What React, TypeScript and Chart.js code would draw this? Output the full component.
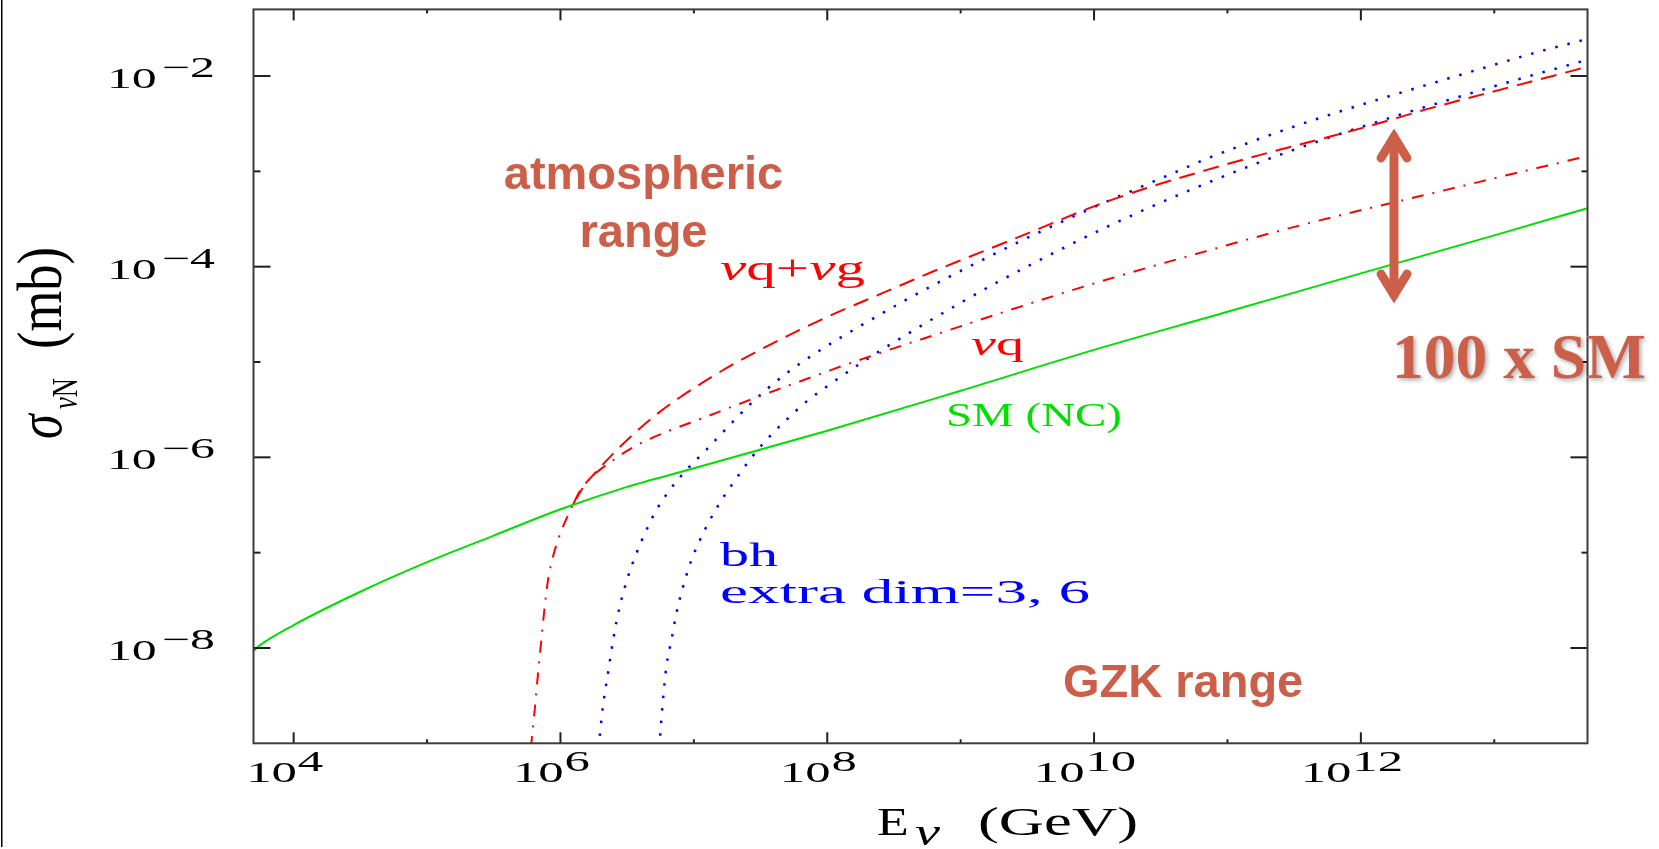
import { useEffect, useRef } from "react";
import { Chart, registerables } from "chart.js";

Chart.register(...registerables);

// Neutrino–nucleon cross sections: energy in GeV, sigma in mb.

// Standard Model, neutral current
const smEnergy = [5e3, 5.6e3, 1e4, 3.16e4, 1e5, 3.16e5, 1e6, 3.16e6, 1e7, 1e8, 1e9, 1e10, 1e11, 1e12, 1e13, 5e13];
const smSigma = [9.3e-9, 1.07e-8, 1.74e-8, 3.89e-8, 7.94e-8, 1.51e-7, 2.85e-7, 4.9e-7, 7.67e-7, 1.9e-6, 5.0e-6, 1.34e-5, 3.36e-5, 8.5e-5, 2.13e-4, 4.1e-4];

// νq + νg (dashed)
const quarkGluonEnergy = [
  6.0e5, 6.41e5, 6.79e5, 7.19e5, 7.62e5, 8.07e5, 8.79e5, 9.59e5, 1.045e6, 1.14e6, 1.24e6,
  1.39e6, 1.86e6, 2.62e6, 3.93e6, 5.55e6, 7.83e6, 1.39e7, 2.2e7, 3.49e7, 6.21e7,
  1.1e8, 1.96e8, 3.49e8, 6.21e8, 1.1e9, 1.96e9, 3.92e9, 9.84e9, 2.45e10, 6.92e10,
  1.74e11, 4.68e11, 1.23e12, 3.09e12, 8.32e12, 3.89e13, 5e13,
];
const quarkGluonSigma = [
  8.9e-10, 2.24e-9, 5.42e-9, 1.21e-8, 2.72e-8, 5.16e-8, 9.08e-8, 1.36e-7, 1.87e-7, 2.48e-7, 3.16e-7,
  4.37e-7, 7.08e-7, 1.18e-6, 2.01e-6, 3.0e-6, 4.24e-6, 7.1e-6, 1.03e-5, 1.45e-5, 2.17e-5,
  3.16e-5, 4.47e-5, 6.31e-5, 8.91e-5, 1.23e-4, 1.7e-4, 2.52e-4, 4.26e-4, 6.64e-4, 1.03e-3,
  1.48e-3, 2.13e-3, 3.06e-3, 4.47e-3, 6.46e-3, 1.14e-2, 1.25e-2,
];

// νq only (dash-dot)
const quarkEnergy = [
  6.0e5, 6.41e5, 6.79e5, 7.19e5, 7.62e5, 8.07e5, 8.79e5, 9.59e5, 1.045e6, 1.14e6, 1.24e6,
  1.56e6, 2.48e6, 3.93e6, 6.6e6, 1.15e7, 1.96e7, 3.49e7, 6.21e7, 1.1e8, 3.49e8, 6.58e8,
  1.96e9, 6.21e9, 1.95e10, 6.61e10, 2.19e11, 6.92e11, 2.34e12, 7.76e12, 1.38e13, 4.57e13, 5e13,
];
const quarkSigma = [
  8.9e-10, 2.24e-9, 5.42e-9, 1.21e-8, 2.72e-8, 5.16e-8, 9.08e-8, 1.36e-7, 1.87e-7, 2.48e-7, 3.16e-7,
  5.37e-7, 9.33e-7, 1.39e-6, 1.91e-6, 2.56e-6, 3.42e-6, 4.65e-6, 6.25e-6, 8.38e-6, 1.46e-5, 1.95e-5,
  3.24e-5, 5.43e-5, 8.81e-5, 1.43e-4, 2.28e-4, 3.45e-4, 5.19e-4, 7.76e-4, 9.44e-4, 1.41e-3, 1.46e-3,
];

// black hole production, 3 extra dimensions (dotted)
const bh3Energy = [
  1.93e6, 2.08e6, 2.28e6, 2.48e6, 2.78e6, 3.21e6, 3.71e6, 4.41e6, 5.24e6, 6.59e6, 8.79e6,
  1.24e7, 1.75e7, 2.75e7, 4.93e7, 8.77e7, 1.75e8, 3.49e8, 6.21e8, 1.1e9, 1.96e9, 3.98e9, 9.84e9,
  2.19e10, 3.89e10, 6.92e10, 1.38e11, 3.09e11, 7.41e11, 1.74e12, 4.17e12, 9.77e12, 1.95e13, 5e13,
];
const bh3Sigma = [
  8.9e-10, 2.42e-9, 5.6e-9, 1.21e-8, 2.72e-8, 5.6e-8, 9.84e-8, 1.73e-7, 2.8e-7, 4.54e-7, 7.36e-7,
  1.2e-6, 2.0e-6, 3.8e-6, 7.59e-6, 1.32e-5, 2.37e-5, 4.12e-5, 6.38e-5, 9.66e-5, 1.45e-4, 2.34e-4, 4.17e-4,
  6.76e-4, 9.55e-4, 1.35e-3, 1.95e-3, 2.92e-3, 4.37e-3, 6.31e-3, 9.12e-3, 1.3e-2, 1.73e-2, 2.45e-2,
];

// black hole production, 6 extra dimensions (dotted)
const bh6Energy = [
  5.5e6, 5.87e6, 6.22e6, 6.79e6, 7.4e6, 8.3e6, 9.59e6, 1.11e7, 1.32e7, 1.56e7, 1.96e7, 2.62e7,
  3.49e7, 4.93e7, 6.97e7, 9.29e7, 1.96e8, 4.66e8, 9.84e8, 1.96e9, 3.49e9, 6.21e9, 1.23e10, 2.19e10,
  4.17e10, 7.76e10, 1.55e11, 3.09e11, 6.17e11, 1.1e12, 1.95e12, 3.47e12, 7.76e12, 1.55e13, 2.45e13, 5e13,
];
const bh6Sigma = [
  8.9e-10, 2.84e-9, 6.37e-9, 1.21e-8, 2.31e-8, 4.4e-8, 8.38e-8, 1.36e-7, 2.2e-7, 3.3e-7, 5.33e-7, 9.38e-7,
  1.52e-6, 2.47e-6, 3.84e-6, 5.19e-6, 1.06e-5, 2.24e-5, 4.13e-5, 7.08e-5, 1.08e-4, 1.63e-4, 2.59e-4, 3.75e-4,
  5.56e-4, 7.98e-4, 1.17e-3, 1.67e-3, 2.33e-3, 3.04e-3, 3.92e-3, 5.01e-3, 7.03e-3, 9.33e-3, 1.12e-2, 1.48e-2,
];

// axis ticks, as powers of ten
const xMajorExponents = [4, 6, 8, 10, 12];
const xMinorExponents = [5, 7, 9, 11, 13];
const yMajorExponents = [-2, -4, -6, -8];
const yMinorExponents = [-3, -5, -7];

// the two red curves coincide below the point where they split
const sharedCount = quarkGluonEnergy.findIndex(
  (e, i) => e !== quarkEnergy[i] || quarkGluonSigma[i] !== quarkSigma[i]
);

const RED = "#ff0000";
const BLUE = "#0000ff";
const GREEN = "#00e000";
const ACCENT = "#cc5f4a";
const INK = "#1e1e1e";
const FRAME = "#3c3c3c";
const SERIF = '"Liberation Serif", "Times New Roman", serif';
const SANS = '"Liberation Sans", Arial, sans-serif';

type Run = { text: string; font: string; dy?: number; gap?: number };
type RunOpts = { align?: "left" | "right" | "center"; width?: number; sx?: number };

// Draws a row of text pieces, stretched horizontally by a fixed factor or to a width.
function drawRuns(ctx: CanvasRenderingContext2D, runs: Run[], x: number, y: number, opts: RunOpts) {
  const widths = runs.map((r) => {
    ctx.font = r.font;
    return ctx.measureText(r.text).width;
  });
  const natural = widths.reduce((s, w, i) => s + w + (runs[i].gap ?? 0), 0);
  const sx = opts.width ? opts.width / natural : opts.sx ?? 1;
  const total = natural * sx;
  const align = opts.align ?? "left";
  const start = align === "left" ? x : align === "right" ? x - total : x - total / 2;
  ctx.save();
  ctx.translate(start, y);
  ctx.scale(sx, 1);
  ctx.textAlign = "left";
  ctx.textBaseline = "alphabetic";
  let cx = 0;
  runs.forEach((r, i) => {
    cx += r.gap ?? 0;
    ctx.font = r.font;
    ctx.fillText(r.text, cx, r.dy ?? 0);
    cx += widths[i];
  });
  ctx.restore();
}

function segment(ctx: CanvasRenderingContext2D, x1: number, y1: number, x2: number, y2: number) {
  ctx.beginPath();
  ctx.moveTo(x1, y1);
  ctx.lineTo(x2, y2);
  ctx.stroke();
}

const framePlugin = {
  id: "frameAndLabels",
  afterDraw(chart: Chart) {
    const { ctx, chartArea: a } = chart;
    const xs = chart.scales.x;
    const ys = chart.scales.y;
    ctx.save();

    // page edge rule
    ctx.fillStyle = "#000";
    ctx.fillRect(1, 0, 1.5, 847);

    // tick marks on all four sides, pointing inward
    ctx.strokeStyle = INK;
    ctx.lineWidth = 2;
    xMajorExponents.forEach((e) => {
      const px = xs.getPixelForValue(10 ** e);
      segment(ctx, px, a.bottom, px, a.bottom - 11);
      segment(ctx, px, a.top, px, a.top + 11);
    });
    xMinorExponents.forEach((e) => {
      const px = xs.getPixelForValue(10 ** e);
      segment(ctx, px, a.bottom, px, a.bottom - 4);
      segment(ctx, px, a.top, px, a.top + 4);
    });
    yMajorExponents.forEach((e) => {
      const py = ys.getPixelForValue(10 ** e);
      segment(ctx, a.left, py, a.left + 17, py);
      segment(ctx, a.right, py, a.right - 17, py);
    });
    yMinorExponents.forEach((e) => {
      const py = ys.getPixelForValue(10 ** e);
      segment(ctx, a.left, py, a.left + 7, py);
      segment(ctx, a.right, py, a.right - 6, py);
    });

    ctx.strokeStyle = FRAME;
    ctx.lineWidth = 2;
    ctx.strokeRect(a.left, a.top, a.width, a.height);

    // tick labels
    ctx.fillStyle = "#000";
    const tickFont = `29px ${SERIF}`;
    yMajorExponents.forEach((e) => {
      const py = ys.getPixelForValue(10 ** e);
      drawRuns(
        ctx,
        [
          { text: "10", font: tickFont },
          { text: `\u2212${-e}`, font: tickFont, dy: -11, gap: 3 },
        ],
        215,
        py + 12,
        { align: "right", sx: 1.72 }
      );
    });
    xMajorExponents.forEach((e) => {
      const px = xs.getPixelForValue(10 ** e);
      drawRuns(
        ctx,
        [
          { text: "10", font: tickFont },
          { text: String(e), font: tickFont, dy: -11, gap: 0.5 },
        ],
        px - 9,
        782,
        { align: "center", sx: 1.75 }
      );
    });

    // axis titles
    drawRuns(ctx, [{ text: "E", font: `40px ${SERIF}` }], 877, 835, { sx: 1.3 });
    drawRuns(ctx, [{ text: "\u03bd", font: `italic 38px ${SERIF}` }], 915, 845, { width: 25 });
    drawRuns(ctx, [{ text: "(GeV)", font: `40px ${SERIF}` }], 978, 835, { width: 160 });

    ctx.save();
    ctx.translate(61, 439);
    ctx.rotate(-Math.PI / 2);
    ctx.scale(1, 1.25);
    drawRuns(ctx, [{ text: "\u03c3", font: `italic 50px ${SERIF}` }], 0, 0, { sx: 1 });
    drawRuns(
      ctx,
      [
        { text: "\u03bd", font: `italic 28px ${SERIF}` },
        { text: "N", font: `28px ${SERIF}` },
      ],
      30,
      12.4,
      { width: 31 }
    );
    drawRuns(ctx, [{ text: "(mb)", font: `50px ${SERIF}` }], 90, 0, { width: 102 });
    ctx.restore();

    // curve labels
    ctx.fillStyle = RED;
    drawRuns(
      ctx,
      [
        { text: "\u03bd", font: `italic 36px ${SERIF}` },
        { text: "q+", font: `36px ${SERIF}` },
        { text: "\u03bd", font: `italic 36px ${SERIF}` },
        { text: "g", font: `36px ${SERIF}` },
      ],
      720,
      280,
      { width: 145 }
    );
    drawRuns(
      ctx,
      [
        { text: "\u03bd", font: `italic 34px ${SERIF}` },
        { text: "q", font: `34px ${SERIF}` },
      ],
      971,
      355,
      { width: 53 }
    );
    ctx.fillStyle = GREEN;
    drawRuns(ctx, [{ text: "SM (NC)", font: `33px ${SERIF}` }], 946, 426, { width: 176 });
    ctx.fillStyle = BLUE;
    drawRuns(ctx, [{ text: "bh", font: `33px ${SERIF}` }], 720, 566, { width: 58 });
    drawRuns(ctx, [{ text: "extra dim=3, 6", font: `33px ${SERIF}` }], 720, 603, { width: 370 });

    // energy-range captions
    ctx.fillStyle = ACCENT;
    ctx.font = `bold 47px ${SANS}`;
    ctx.textBaseline = "alphabetic";
    ctx.textAlign = "center";
    ctx.fillText("atmospheric", 643.5, 189);
    ctx.fillText("range", 643.5, 247);
    ctx.textAlign = "left";
    ctx.fillText("GZK range", 1063, 697);

    // enhancement marker
    ctx.strokeStyle = ACCENT;
    ctx.lineWidth = 9;
    ctx.lineCap = "round";
    ctx.lineJoin = "miter";
    ctx.miterLimit = 10;
    ctx.beginPath();
    ctx.moveTo(1394, 137);
    ctx.lineTo(1394, 295);
    ctx.stroke();
    ctx.beginPath();
    ctx.moveTo(1381, 158);
    ctx.lineTo(1394, 137);
    ctx.lineTo(1407, 158);
    ctx.stroke();
    ctx.beginPath();
    ctx.moveTo(1381, 274);
    ctx.lineTo(1394, 295);
    ctx.lineTo(1407, 274);
    ctx.stroke();

    ctx.save();
    ctx.shadowColor = "rgba(0,0,0,0.35)";
    ctx.shadowBlur = 4;
    ctx.shadowOffsetX = 2;
    ctx.shadowOffsetY = 2;
    drawRuns(ctx, [{ text: "100 x SM", font: `bold 64px ${SERIF}` }], 1392, 378, { width: 254 });
    ctx.restore();

    ctx.restore();
  },
};

function points(energy: number[], sigma: number[]) {
  return energy.map((e, i) => ({ x: e, y: sigma[i] }));
}

export default function App() {
  const ref = useRef<HTMLCanvasElement>(null);

  useEffect(() => {
    if (!ref.current) return;
    const chart = new Chart(ref.current, {
      type: "line",
      data: {
        datasets: [
          {
            label: "SM (NC)",
            data: points(smEnergy, smSigma),
            borderColor: GREEN,
            borderWidth: 2,
          },
          {
            label: "\u03bdq",
            data: points(quarkEnergy, quarkSigma),
            borderColor: RED,
            borderWidth: 2,
            borderDash: [12, 9, 2, 9],
          },
          {
            label: "\u03bdq+\u03bdg",
            data: points(quarkGluonEnergy, quarkGluonSigma),
            borderColor: RED,
            borderWidth: 2,
            borderDash: [16, 9],
            // below the split the νq curve already traces the same path
            segment: {
              borderColor: (c: any) => (c.p1DataIndex < sharedCount ? "rgba(0,0,0,0)" : undefined),
            },
          },
          {
            label: "bh, 3 extra dimensions",
            data: points(bh3Energy, bh3Sigma),
            borderColor: BLUE,
            borderWidth: 2.5,
            borderDash: [2.5, 10],
          },
          {
            label: "bh, 6 extra dimensions",
            data: points(bh6Energy, bh6Sigma),
            borderColor: BLUE,
            borderWidth: 2.5,
            borderDash: [2.5, 10],
          },
        ],
      },
      options: {
        animation: false,
        responsive: false,
        devicePixelRatio: 1,
        layout: { padding: { left: 253.5, right: 71.5, top: 9.4, bottom: 105.7 } },
        elements: {
          point: { radius: 0 },
          line: { cubicInterpolationMode: "monotone", fill: false },
        },
        scales: {
          x: { type: "logarithmic", min: 5e3, max: 5e13, display: false },
          y: { type: "logarithmic", min: 1e-9, max: 5e-2, display: false },
        },
        plugins: {
          legend: { display: false },
          tooltip: { enabled: false },
        },
      },
      plugins: [framePlugin],
    });
    return () => chart.destroy();
  }, []);

  return (
    <div style={{ position: "fixed", left: 0, top: 0, width: 1659, height: 849, background: "#fff" }}>
      <canvas ref={ref} width={1659} height={849} />
    </div>
  );
}
